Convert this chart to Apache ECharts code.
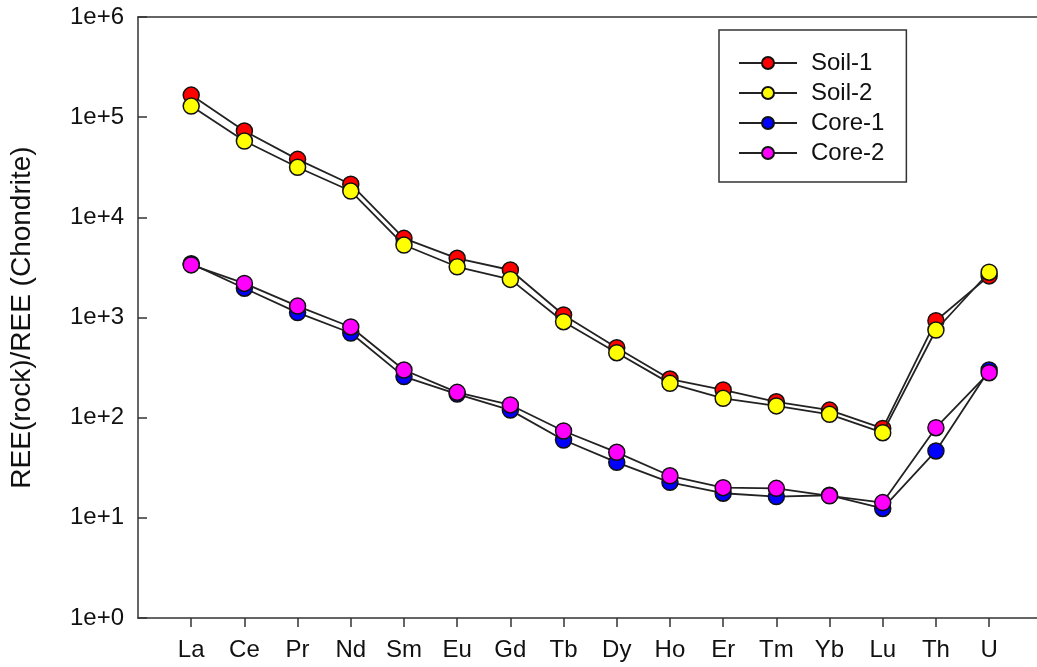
<!DOCTYPE html>
<html>
<head>
<meta charset="utf-8">
<script src="https://cdn.jsdelivr.net/npm/echarts@6/dist/echarts.min.js"></script>
<style>html,body{margin:0;padding:0;background:#fff}#c{width:1037px;height:667px}</style>
</head>
<body>
<div id="c"></div>
<script>
var elements = ['La','Ce','Pr','Nd','Sm','Eu','Gd','Tb','Dy','Ho','Er','Tm','Yb','Lu','Th','U'];
var soil1 = [166000, 72700, 37900, 21400, 6170, 3900, 2980, 1060, 499, 243, 189, 144, 119, 78, 929, 2600];
var soil2 = [129000, 57800, 31600, 18300, 5290, 3210, 2400, 908, 445, 220, 156, 131, 108, 70.8, 750, 2830];
var core1 = [3450, 1960, 1120, 700, 257, 172, 119, 59.8, 35.8, 22.6, 17.6, 16.3, 16.8, 12.4, 46.5, 299];
var core2 = [3350, 2190, 1300, 804, 299, 179, 134, 73.6, 45.1, 26.3, 20.0, 19.7, 16.6, 14.2, 79.4, 281];
var seriesNames = ['Soil-1','Soil-2','Core-1','Core-2'];
var seriesColors = ['#ff0000','#ffff00','#0000ff','#ff00ff'];
var yTickLabels = ['1e+0','1e+1','1e+2','1e+3','1e+4','1e+5','1e+6'];

var allData = [soil1, soil2, core1, core2];
var positions = elements.map(function (e, i) { return i + 1; });
var FONT = 'Liberation Sans, Arial, sans-serif';
var chart = echarts.init(document.getElementById('c'));
chart.setOption({
  animation: false,
  backgroundColor: '#fff',
  grid: {left: 137, top: 17, right: 0, bottom: 49, containLabel: false},
  legend: {
    left: 719, top: 30, orient: 'vertical',
    data: seriesNames,
    itemWidth: 58, itemHeight: 15, itemGap: 6,
    borderColor: '#333', borderWidth: 1.5, borderRadius: 0,
    padding: [21, 22, 17, 19],
    textStyle: {fontFamily: FONT, fontSize: 24, color: '#111', lineHeight: 24, padding: [0,0,0,9]}
  },
  xAxis: [{
    type: 'value', min: 0, max: 16.9,
    axisLine: {lineStyle: {color: '#333', width: 1.5}},
    axisTick: {show: true, length: 9, lineStyle: {color: '#333', width: 1.5}, customValues: positions},
    axisLabel: {fontFamily: FONT, fontSize: 24, color: '#111', margin: 20, customValues: positions,
      formatter: function (v) { return elements[Math.round(v) - 1] || ''; }},
    splitLine: {show: false}
  }, {
    type: 'value', min: 0, max: 16.9, position: 'top',
    axisLine: {show: true, lineStyle: {color: '#333', width: 1.5}},
    axisTick: {show: false}, axisLabel: {show: false}, splitLine: {show: false}
  }],
  yAxis: {
    type: 'log', logBase: 10, min: 1, max: 1000000,
    name: 'REE(rock)/REE (Chondrite)', nameLocation: 'middle', nameGap: 102,
    nameTextStyle: {fontFamily: FONT, fontSize: 28, color: '#111'},
    axisLine: {show: true, lineStyle: {color: '#333', width: 1.5}},
    axisTick: {show: true, inside: true, length: 9, lineStyle: {color: '#333', width: 1.5}},
    axisLabel: {fontFamily: FONT, fontSize: 24, color: '#111', margin: 14,
      formatter: function (v) { var e = Math.round(Math.log10(v)); return yTickLabels[e]; }},
    splitLine: {show: false}
  },
  series: allData.map(function (arr, k) {
    return {
      name: seriesNames[k], type: 'line', xAxisIndex: 0,
      data: arr.map(function (v, i) { return [positions[i], v]; }),
      symbol: 'circle', symbolSize: 16,
      itemStyle: {color: seriesColors[k], borderColor: '#111', borderWidth: 1.5},
      lineStyle: {color: '#222', width: 1.8},
      z: 2 + k
    };
  })
});
</script>
</body>
</html>
